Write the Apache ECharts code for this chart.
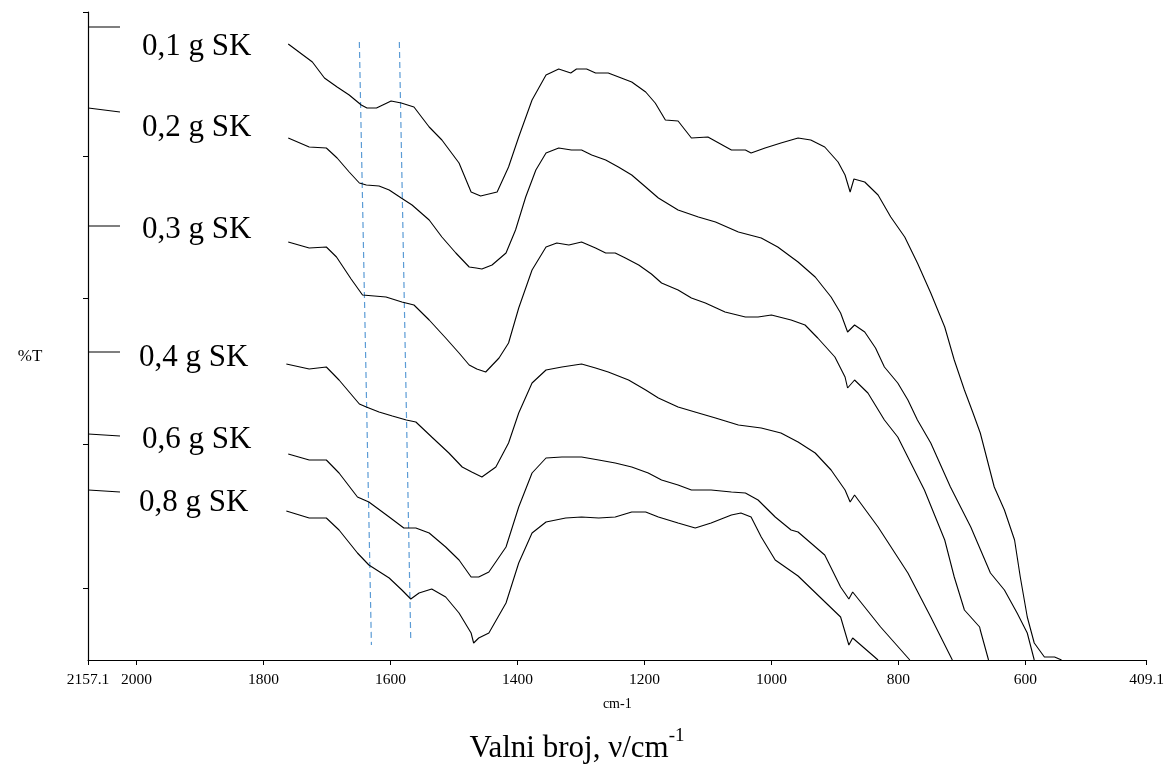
<!DOCTYPE html>
<html>
<head>
<meta charset="utf-8">
<script src="https://cdn.jsdelivr.net/npm/echarts@6/dist/echarts.min.js"></script>
<style>
html,body{margin:0;padding:0;background:#fff;}
#chart{width:1167px;height:765px;}
</style>
</head>
<body>
<div id="chart"></div>
<script>
// x axis: wavenumber (cm-1), drawn from 2076.4 (left end, labelled 2157.1) to 409.1
const xTickValues = [2076.4, 2000, 1800, 1600, 1400, 1200, 1000, 800, 600, 409.1];
const xTickLabels = ['2157.1', '2000', '1800', '1600', '1400', '1200', '1000', '800', '600', '409.1'];
// y axis (%T, arbitrary offset units, no labels)
const yTickValues = [648, 504, 362, 216, 72];

const seriesNames = ['0,1 g SK', '0,2 g SK', '0,3 g SK', '0,4 g SK', '0,6 g SK', '0,8 g SK'];
const GAP = ['-', '-'];

const curve01 = [[2076,633],[2026,633],GAP,[1761,616],[1723,598],[1704,582],[1684,573],[1665,565],[1646,555],[1637,552],[1622,552],[1599,559],[1583,557],[1563,553],[1539,533],[1519,520],[1492,497],[1473,468],[1458,464],[1432,468],[1414,493],[1398,523],[1377,560],[1355,585],[1335,591],[1316,587],[1307,591],[1291,591],[1277,587],[1257,587],[1220,578],[1198,568],[1183,557],[1167,540],[1147,539],[1126,522],[1100,523],[1063,510],[1041,510],[1032,507],[1010,512],[985,517],[958,522],[938,520],[916,513],[895,498],[884,485],[876,468],[870,481],[853,478],[832,465],[812,443],[790,423],[770,397],[749,367],[727,333],[712,300],[696,270],[683,248],[671,227],[649,173],[633,150],[617,120],[608,83],[597,43],[586,17],[570,3],[554,3],[543,0]];
const curve02 = [[2076,552],[2026,548],GAP,[1761,522],[1728,513],[1701,512],[1684,502],[1665,488],[1649,477],[1638,475],[1618,474],[1602,470],[1583,462],[1566,455],[1539,440],[1519,423],[1497,407],[1476,393],[1465,392],[1456,391],[1440,395],[1418,407],[1403,430],[1387,463],[1371,490],[1355,507],[1335,512],[1315,510],[1299,510],[1283,505],[1261,500],[1241,493],[1220,485],[1198,473],[1178,462],[1147,450],[1115,443],[1088,438],[1052,428],[1016,422],[990,413],[958,398],[931,383],[906,363],[891,347],[880,328],[869,335],[853,328],[836,312],[822,293],[801,277],[785,260],[770,240],[749,217],[718,173],[686,133],[655,87],[633,70],[613,47],[597,27],[586,0]];
const curve03 = [[2076,434],[2026,434],GAP,[1761,418],[1728,412],[1701,413],[1685,403],[1662,381],[1644,365],[1607,363],[1582,358],[1563,355],[1539,340],[1513,322],[1492,307],[1476,295],[1464,291],[1450,288],[1429,302],[1414,317],[1398,352],[1377,390],[1355,413],[1338,417],[1319,415],[1299,418],[1277,412],[1261,407],[1246,407],[1230,402],[1209,395],[1189,386],[1173,377],[1147,370],[1126,362],[1104,357],[1073,348],[1041,343],[1021,343],[1000,345],[969,340],[947,335],[927,322],[900,303],[884,283],[880,272],[869,280],[848,267],[822,240],[801,223],[759,170],[727,120],[712,83],[696,50],[672,33],[671,30],[658,0]];
const curve04 = [[2076,308],[2026,308],GAP,[1764,296],[1728,291],[1701,293],[1681,280],[1665,268],[1649,256],[1638,253],[1618,248],[1597,244],[1575,240],[1560,238],[1535,223],[1508,207],[1487,193],[1472,188],[1456,183],[1434,193],[1414,217],[1398,247],[1377,277],[1355,290],[1330,293],[1299,296],[1277,292],[1257,288],[1225,280],[1198,270],[1178,262],[1147,253],[1115,247],[1088,242],[1052,235],[1016,232],[985,227],[958,218],[931,207],[906,190],[884,170],[876,158],[869,165],[832,133],[785,87],[749,43],[715,0]];
const curve05 = [[2076,226],[2026,224],GAP,[1761,206],[1728,200],[1701,200],[1681,187],[1652,163],[1634,158],[1602,143],[1579,132],[1560,132],[1539,127],[1513,113],[1492,100],[1473,83],[1461,83],[1445,88],[1418,113],[1398,153],[1377,187],[1355,202],[1330,203],[1299,203],[1272,200],[1246,197],[1220,193],[1194,187],[1173,180],[1147,175],[1126,170],[1095,170],[1063,168],[1041,167],[1021,160],[994,143],[969,130],[958,128],[916,105],[891,73],[878,61],[872,68],[828,33],[782,0]];
const curve06 = [[2076,170],[2026,168],GAP,[1764,149],[1728,142],[1701,142],[1681,130],[1652,107],[1634,95],[1602,82],[1582,70],[1568,61],[1555,67],[1535,71],[1513,63],[1492,47],[1473,27],[1469,17],[1461,22],[1445,27],[1418,57],[1398,97],[1377,127],[1355,138],[1324,142],[1299,143],[1272,142],[1246,143],[1220,148],[1198,148],[1178,143],[1147,137],[1120,132],[1095,137],[1063,145],[1048,147],[1032,143],[1016,123],[994,100],[958,84],[891,43],[878,15],[872,22],[832,0]];
const curves = [curve01, curve02, curve03, curve04, curve05, curve06];

// blue dashed guide lines (wavenumber, %T)
const guide1 = [[1649,618],[1630,15]];
const guide2 = [[1586,618],[1568,18]];

const serif = '"Liberation Serif","Times New Roman",serif';
const chart = echarts.init(document.getElementById('chart'), null, {renderer: 'canvas'});

const lineSeries = curves.map((c, i) => ({
  name: seriesNames[i], type: 'line', data: c, showSymbol: false, symbol: 'none',
  connectNulls: false, lineStyle: {color: '#000', width: 1.1}, z: 3, animation: false
}));
const guideSeries = [guide1, guide2].map(g => ({
  type: 'line', data: g, showSymbol: false, symbol: 'none',
  lineStyle: {color: '#5b9bd5', width: 1.2, type: [6, 4]}, z: 2, animation: false
}));

const labelPos = [[142,47],[142,128],[142,230],[139,358],[142,440],[139,503]];

chart.setOption({
  animation: false,
  backgroundColor: '#fff',
  grid: {left: 88, right: 17.5, top: 12, bottom: 105},
  xAxis: {
    type: 'value', inverse: true, min: 409.1, max: 2076.4,
    name: 'cm-1', nameLocation: 'middle', nameGap: 37,
    nameTextStyle: {fontFamily: serif, fontSize: 14, color: '#000'},
    axisLine: {lineStyle: {color: '#000', width: 1.2}},
    axisTick: {show: true, length: 5, customValues: xTickValues, lineStyle: {color: '#000'}},
    axisLabel: {
      customValues: xTickValues, color: '#000', fontFamily: serif, fontSize: 15.5, margin: 12,
      formatter: v => { const i = xTickValues.findIndex(t => Math.abs(t - v) < 0.5); return i >= 0 ? xTickLabels[i] : ''; }
    },
    splitLine: {show: false}
  },
  yAxis: {
    type: 'value', min: 0, max: 648,
    axisLine: {show: true, lineStyle: {color: '#000', width: 1.2}},
    axisTick: {show: true, length: 5, customValues: yTickValues, lineStyle: {color: '#000'}},
    axisLabel: {show: false},
    splitLine: {show: false}
  },
  series: guideSeries.concat(lineSeries),
  graphic: seriesNames.map((n, i) => ({
    type: 'text', x: labelPos[i][0], y: labelPos[i][1], z: 10,
    style: {text: n, font: '31px ' + serif, fill: '#000', verticalAlign: 'middle', align: 'left'}
  })).concat([{
    type: 'text', x: 30, y: 357, z: 10,
    style: {text: '%T', font: '17px ' + serif, fill: '#000', verticalAlign: 'middle', align: 'center'}
  }, {
    type: 'text', x: 577, y: 744, z: 10,
    style: {
      text: '{a|Valni broj, ν/cm}{s|-1}', align: 'center', verticalAlign: 'middle',
      rich: {
        a: {fontFamily: serif, fontSize: 31, color: '#000', lineHeight: 40, verticalAlign: 'bottom'},
        s: {fontFamily: serif, fontSize: 19, color: '#000', lineHeight: 40, verticalAlign: 'top', padding: [3,0,0,0]}
      }
    }
  }])
});
</script>
</body>
</html>
